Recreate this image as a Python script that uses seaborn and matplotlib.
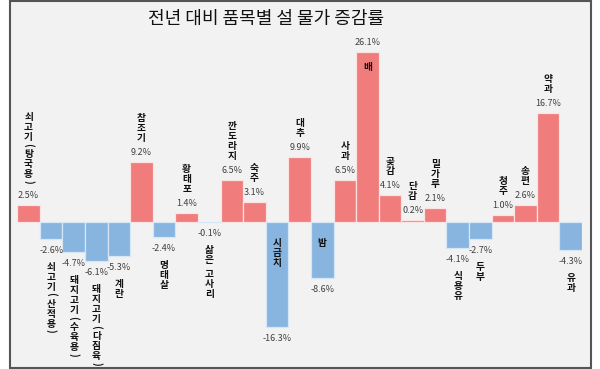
import matplotlib
matplotlib.use("Agg")
import matplotlib.pyplot as plt
from matplotlib.patches import Rectangle
import seaborn as sns
import pandas as pd

items = ["쇠고기(탕국용)", "쇠고기(산적용)", "돼지고기(수육용)", "돼지고기(다짐육)", "계란",
         "참조기", "명태살", "황태포", "삶은 고사리", "깐도라지", "숙주", "시금치", "대추",
         "밤", "사과", "배", "곶감", "단감", "밀가루", "식용유", "두부", "청주", "송편",
         "약과", "유과"]
changes = [2.5, -2.6, -4.7, -6.1, -5.3, 9.2, -2.4, 1.4, -0.1, 6.5, 3.1, -16.3, 9.9,
           -8.6, 6.5, 26.1, 4.1, 0.2, 2.1, -4.1, -2.7, 1.0, 2.6, 16.7, -4.3]
inside_labels = ["시금치", "밤", "배"]
title = "전년 대비 품목별 설 물가 증감률"

W, H = 600, 369
sns.set_theme(style="white")
plt.rcParams["font.family"] = ["Noto Sans CJK KR", "DejaVu Sans"]

df = pd.DataFrame({"item": items, "change": changes})
df["sign"] = ["pos" if v >= 0 else "neg" for v in changes]

fig = plt.figure(figsize=(W / 100, H / 100), dpi=100)
fig.patch.set_facecolor("white")
fig.patches.append(Rectangle((10 / W, 1 / H), 581 / W, 367 / H, transform=fig.transFigure,
                             facecolor="#f2f2f2", edgecolor="#555555", lw=1.5, zorder=-5))

x0, x1 = 17.3, 582.0
ax = fig.add_axes([x0 / W, 0, (x1 - x0) / W, 1])
ax.set_zorder(2)
ax.set_facecolor("none")
zero_px, scale = 221.7, 6.49
sns.barplot(data=df, x="item", y="change", hue="sign", order=items,
            palette={"pos": "#f07c7c", "neg": "#88b4e0"}, dodge=False, width=1.0,
            saturation=1, legend=False, edgecolor="#fbe3e3", linewidth=0.9, ax=ax)
for bar in ax.patches:
    if bar.get_height() < 0:
        bar.set_edgecolor("#d6e6f5")
ax.set_xlim(-0.5, len(items) - 0.5)
ax.set_ylim(-(H - zero_px) / scale, zero_px / scale)
ax.axis("off")

PITCH, PAREN, SPACE = 10.0, 7.0, 4.0


def char_h(c):
    return PAREN if c in "()" else (SPACE if c == " " else PITCH)


def vertical_label(xy, name, dy, anchor):
    """Draw name stacked vertically; anchor 'top' -> dy is top edge offset,
    'bottom' -> dy is bottom edge offset (pixels)."""
    total = sum(char_h(c) for c in name)
    top = dy if anchor == "top" else dy + total
    y = top
    for c in name:
        h = char_h(c)
        if c != " ":
            ax.annotate(c, xy, xytext=(0, y - h / 2), textcoords="offset pixels",
                        ha="center", va="center_baseline" if c not in "()" else "center",
                        rotation=-90 if c in "()" else 0,
                        fontsize=7, fontweight="bold", color="#111111")
        y -= h


vkw = dict(fontsize=6.5, color="#404040", ha="center", textcoords="offset pixels")
for i, (name, v) in enumerate(zip(items, changes)):
    label = f"{v:.1f}%"
    if v >= 0:
        ax.annotate(label, (i, v), xytext=(0, 5), va="bottom", **vkw)
        if name in inside_labels:
            vertical_label((i, v), name, -9, "top")
        else:
            vertical_label((i, v), name, 20, "bottom")
    else:
        ax.annotate(label, (i, v), xytext=(0, -7), va="top", **vkw)
        if name in inside_labels:
            vertical_label((i, 0), name, -15, "top")
        else:
            vertical_label((i, v), name, -22, "top")

fig.text(266 / W, 1 - 19 / H, title, ha="center", va="center", fontsize=13, color="#111111")
fig.savefig("out.png", dpi=100)
